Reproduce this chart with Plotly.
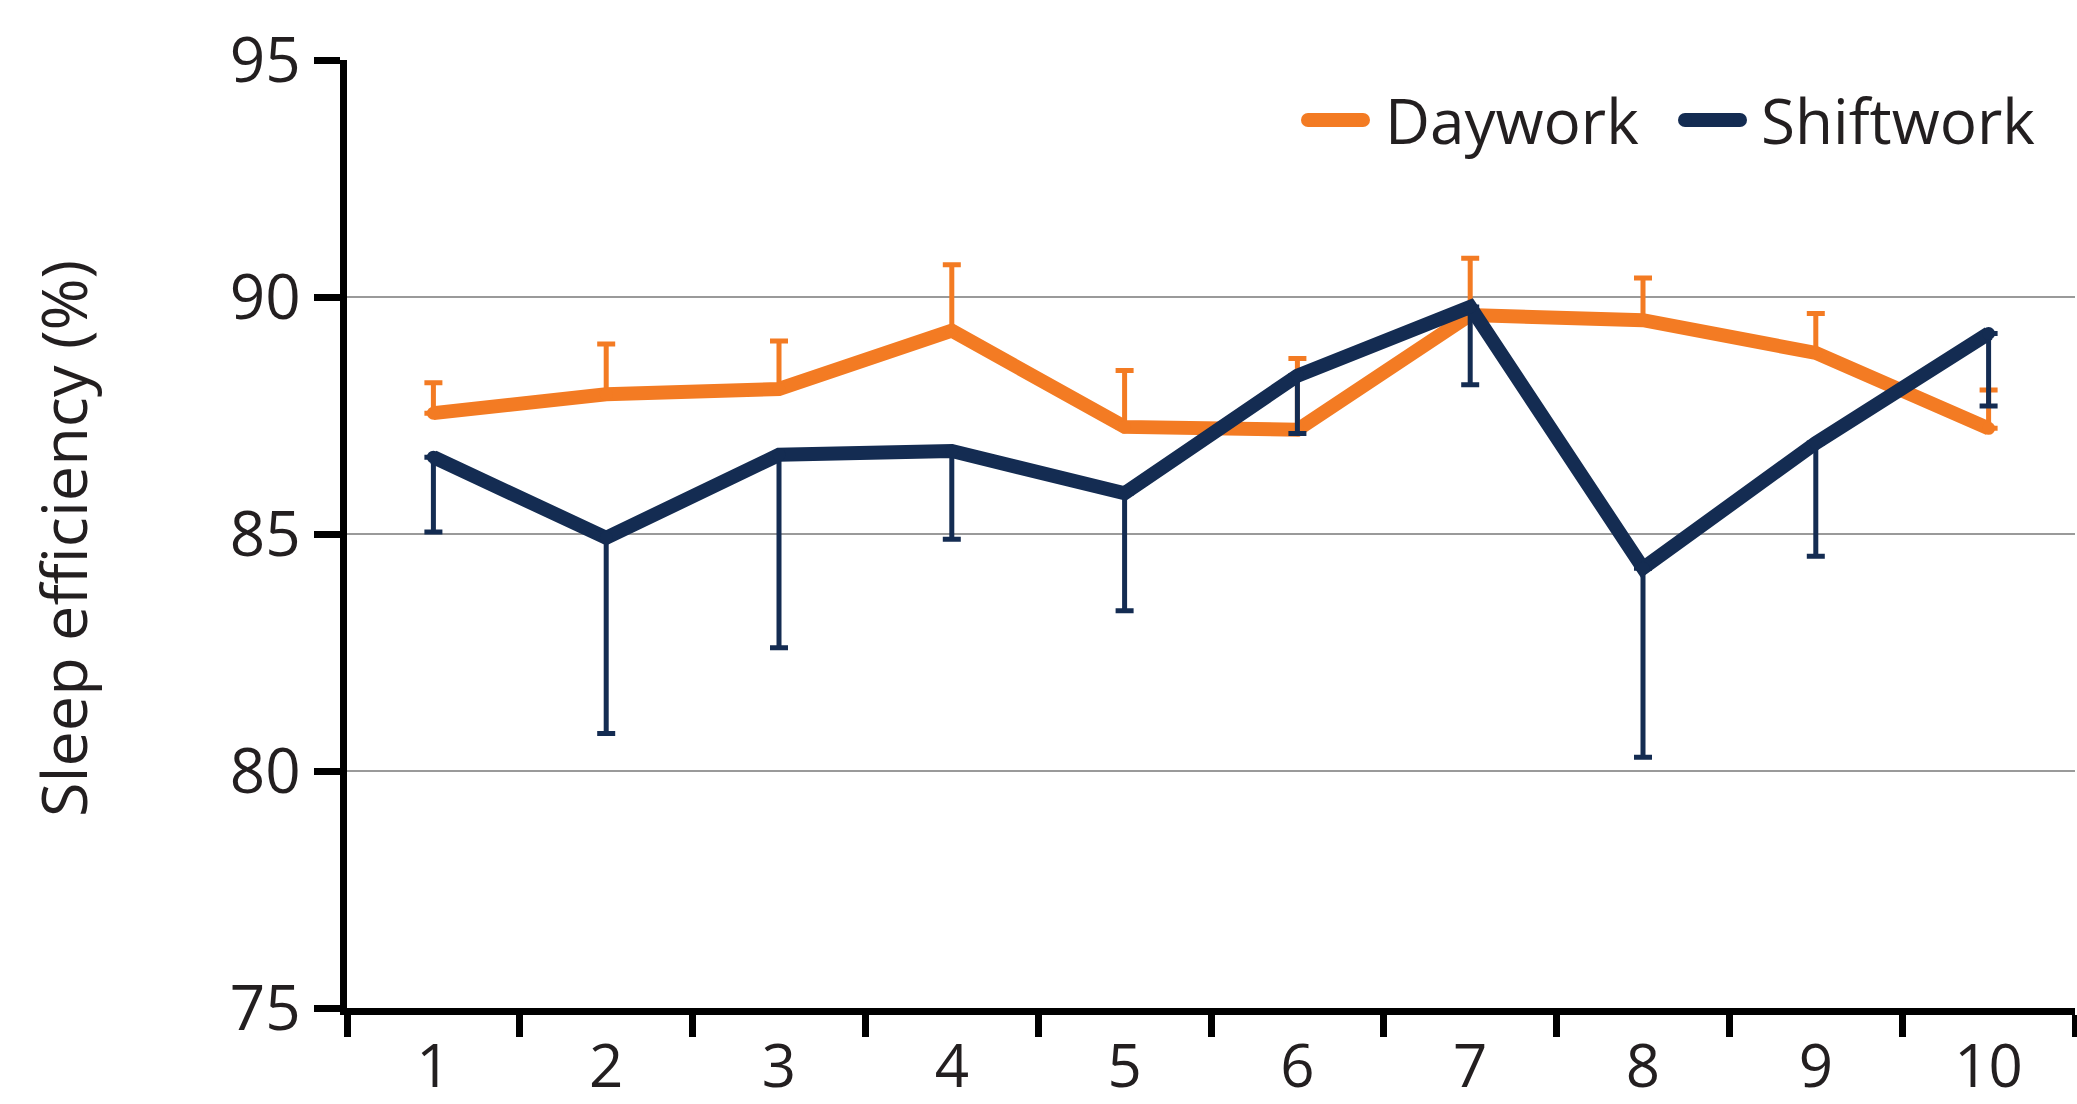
import plotly.graph_objects as go

# Day index on the x axis
days = ["1", "2", "3", "4", "5", "6", "7", "8", "9", "10"]

# Mean sleep efficiency (%) per day
daywork_mean = [87.55, 87.95, 88.06, 89.29, 87.26, 87.20, 89.62, 89.51, 88.82, 87.23]
shiftwork_mean = [86.62, 84.92, 86.67, 86.75, 85.86, 88.34, 89.79, 84.28, 86.92, 89.23]

# One-sided error bars: upward for daywork, downward for shiftwork
daywork_err_up = [0.64, 1.06, 1.01, 1.39, 1.19, 1.50, 1.20, 0.89, 0.83, 0.81]
shiftwork_err_down = [1.58, 4.13, 4.07, 1.86, 2.48, 1.22, 1.64, 3.99, 2.39, 1.53]

y_ticks = [75, 80, 85, 90, 95]

ORANGE = "#F37B23"
NAVY = "#142C52"
TEXT = "#231F20"
FONT = "Open Sans"

W, H = 2077, 1104
M_L, M_R, M_T, M_B = 347, 2, 60, 96
PW = W - M_L - M_R
PH = H - M_T - M_B


def px_x(px):
    return (px - M_L) / PW


def px_y(py):
    return 1 - (py - M_T) / PH


fig = go.Figure()

fig.add_trace(go.Scatter(
    x=days, y=daywork_mean, name="Daywork",
    mode="lines+markers",
    line=dict(color=ORANGE, width=14),
    marker=dict(color=ORANGE, size=13),
    error_y=dict(type="data", symmetric=False,
                 array=daywork_err_up, arrayminus=[0] * len(days),
                 color=ORANGE, thickness=5, width=9),
    showlegend=False,
))

fig.add_trace(go.Scatter(
    x=days, y=shiftwork_mean, name="Shiftwork",
    mode="lines+markers",
    line=dict(color=NAVY, width=14),
    marker=dict(color=NAVY, size=13),
    error_y=dict(type="data", symmetric=False,
                 array=[0] * len(days), arrayminus=shiftwork_err_down,
                 color=NAVY, thickness=5, width=9),
    showlegend=False,
))

# Legend drawn as rounded line swatches with labels
shapes = []
annotations = []
legend_y = px_y(120)
for color, label, x0, x1, tx in [
    (ORANGE, "Daywork", 1308, 1363, 1383),
    (NAVY, "Shiftwork", 1685, 1740, 1759),
]:
    shapes.append(dict(type="line", xref="paper", yref="paper",
                       x0=px_x(x0), x1=px_x(x1), y0=legend_y, y1=legend_y,
                       line=dict(color=color, width=14)))
    for cx in (x0, x1):
        shapes.append(dict(type="circle", xref="paper", yref="paper",
                           xsizemode="pixel", ysizemode="pixel",
                           xanchor=px_x(cx), yanchor=legend_y,
                           x0=-7, x1=7, y0=-7, y1=7,
                           fillcolor=color, line=dict(width=0)))
    annotations.append(dict(text=label, xref="paper", yref="paper",
                            x=px_x(tx), y=legend_y, xanchor="left", yanchor="middle",
                            showarrow=False, font=dict(family=FONT, size=62, color=TEXT)))

annotations.append(dict(text="Sleep efficiency (%)", xref="paper", yref="paper",
                        x=px_x(62), y=px_y(539), xanchor="center", yanchor="middle",
                        textangle=-90, showarrow=False,
                        font=dict(family=FONT, size=63, color=TEXT)))

fig.update_layout(
    width=W, height=H,
    margin=dict(l=M_L, r=M_R, t=M_T, b=M_B, pad=0),
    paper_bgcolor="white", plot_bgcolor="white",
    font=dict(family=FONT, size=62, color=TEXT),
    shapes=shapes, annotations=annotations,
    xaxis=dict(type="category", categoryorder="array", categoryarray=days,
               range=[-0.5, len(days) - 0.5], automargin=False,
               tickson="boundaries", ticks="outside", ticklen=22, tickwidth=7,
               tickcolor="black", showline=True, linecolor="black", linewidth=7,
               showgrid=False, zeroline=False, ticklabelstandoff=0,
               tickfont=dict(family=FONT, size=60, color=TEXT)),
    yaxis=dict(range=[75, 95], tickvals=y_ticks, ticks="outside", ticklen=26,
               tickwidth=7, tickcolor="black", showline=True, linecolor="black",
               linewidth=7, showgrid=True, gridcolor="#9A9A9A", gridwidth=2,
               zeroline=False, ticklabelstandoff=1, automargin=False,
               tickfont=dict(family=FONT, size=62, color=TEXT)),
)

fig.write_html("out.html")
